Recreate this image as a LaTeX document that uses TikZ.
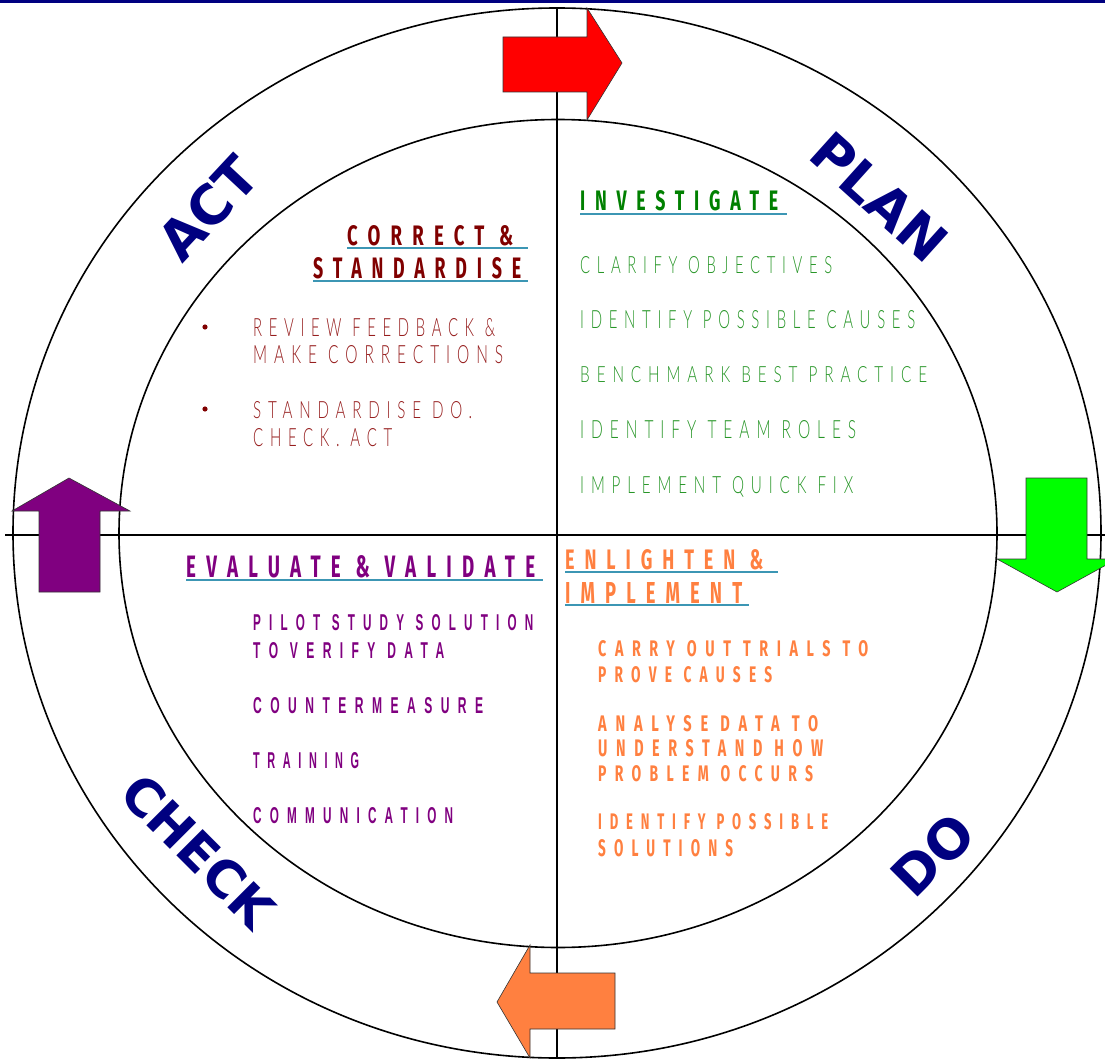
\documentclass[tikz,border=0pt]{standalone}
\usepackage{fontspec}
\usepackage{graphicx}
\setmainfont{DejaVu Sans}
\newfontfamily\bigfont{DejaVu Sans}
\newfontfamily\thinfont{Lato Light}[LetterSpace=45]
\newfontfamily\headfont{Fira Sans}[LetterSpace=55]
\newfontfamily\narrowfont{Liberation Sans}[LetterSpace=70]
\newfontfamily\roundfont{Fira Sans}[LetterSpace=60]

\definecolor{navy}{RGB}{0,0,128}
\definecolor{rulecol}{RGB}{60,150,180}
\definecolor{hgreen}{RGB}{0,128,0}
\definecolor{igreen}{RGB}{40,150,40}
\definecolor{hred}{RGB}{128,0,0}
\definecolor{ired}{RGB}{150,30,30}
\definecolor{ppl}{RGB}{128,0,128}
\definecolor{orng}{RGB}{255,128,64}
\definecolor{arrred}{RGB}{255,0,0}
\definecolor{arrgreen}{RGB}{0,255,0}

% text line squeezed to a given width and cap height (in pt)
\newcommand\fitline[3]{\resizebox{#1pt}{#2pt}{#3}}

\tikzset{
  ring/.style={draw=black, line width=1.6pt},
  axis/.style={draw=black, line width=1.4pt},
  blockarrow/.style={draw=black!80, line width=0.6pt},
  bigword/.style={font=\bigfont\bfseries\fontsize{54}{54}\selectfont, text=navy, inner sep=0pt},
  txt/.style={anchor=base west, inner sep=0pt},
  gitem/.style={txt, font=\thinfont, text=igreen},
  ghead/.style={txt, font=\headfont\bfseries, text=hgreen},
  ritem/.style={txt, font=\thinfont, text=ired},
  rhead/.style={txt, font=\headfont\bfseries, text=hred},
  pitem/.style={txt, font=\narrowfont\bfseries, text=ppl},
  phead/.style={txt, font=\headfont\bfseries, text=ppl},
  oitem/.style={txt, font=\roundfont\bfseries, text=orng},
  ohead/.style={txt, font=\headfont\bfseries, text=orng},
  uline/.style={draw=rulecol, line width=2pt},
}

\begin{document}
\begin{tikzpicture}[x=1pt,y=-1pt]
\useasboundingbox (0,0) rectangle (1105,1059);
\clip (0,0) rectangle (1105,1059);

% top rule
\fill[navy] (0,0) rectangle (1105,3);

% rings and quadrant axes
\draw[ring] (557,533) ellipse [x radius=544, y radius=525];
\draw[ring] (558,533.5) ellipse [x radius=439, y radius=414];
\draw[axis] (5,535) -- (1105,535);
\draw[axis] (557,8) -- (557,1059);

% block arrows turning the cycle
\filldraw[blockarrow, fill=arrred]
  (503,37) -- (587,37) -- (587,8) -- (622,63) -- (587,120) -- (587,92) -- (503,92) -- cycle;
\filldraw[blockarrow, fill=arrgreen]
  (1026,478) -- (1087,478) -- (1087,559) -- (1117,559) -- (1057,592) -- (997,559) -- (1026,559) -- cycle;
\filldraw[blockarrow, fill=orng]
  (615,973) -- (530,973) -- (530,945) -- (497,1002) -- (530,1058) -- (530,1029) -- (615,1029) -- cycle;
\filldraw[blockarrow, fill=ppl]
  (39,592) -- (39,511) -- (12,511) -- (69,478) -- (130,511) -- (100,511) -- (100,592) -- cycle;

% stage names
\node[bigword, rotate=-42] (plan)  at (879,197) {PLAN};
\node[bigword, rotate=47]  (act)   at (208,208) {ACT};
\node[bigword, rotate=-45, font=\bigfont\bfseries\fontsize{51}{51}\selectfont] (check) at (198,851) {CHECK};
\node[bigword, rotate=45]  (do)    at (933,855) {DO};

% PLAN quadrant
\node[ghead] (invh) at (580,211) {\fitline{198}{20}{INVESTIGATE}};
\draw[uline] (580,214) -- (787,214);
\node[gitem] (g1) at (580,273) {\fitline{252}{17}{CLARIFY OBJECTIVES}};
\node[gitem] (g2) at (580,328) {\fitline{335}{18}{IDENTIFY POSSIBLE CAUSES}};
\node[gitem] (g3) at (580,382) {\fitline{347}{16}{BENCHMARK BEST PRACTICE}};
\node[gitem] (g4) at (580,438) {\fitline{276}{18}{IDENTIFY TEAM ROLES}};
\node[gitem] (g5) at (580,493) {\fitline{273}{17}{IMPLEMENT QUICK FIX}};

% ACT quadrant
\node[rhead] (corh1) at (347,245) {\fitline{166}{20}{CORRECT \&}};
\draw[uline] (347,248) -- (528,248);
\node[rhead] (corh2) at (313,278) {\fitline{208}{21}{STANDARDISE}};
\draw[uline] (313,281) -- (528,281);
\fill[hred] (205,327) circle[radius=2.6];
\fill[hred] (205,409) circle[radius=2.6];
\node[ritem] (r1) at (253,336) {\fitline{242}{18}{REVIEW FEEDBACK \&}};
\node[ritem] (r2) at (253,363) {\fitline{250}{18}{MAKE CORRECTIONS}};
\node[ritem] (r3) at (253,418) {\fitline{219}{17}{STANDARDISE DO.}};
\node[ritem] (r4) at (253,446) {\fitline{139}{18}{CHECK. ACT}};

% CHECK quadrant
\node[phead] (evh) at (186,577) {\fitline{349}{22}{EVALUATE \& VALIDATE}};
\draw[uline] (186,580) -- (543,580);
\node[pitem] (p1) at (253,630) {\fitline{280}{16}{PILOT STUDY SOLUTION}};
\node[pitem] (p2) at (253,658) {\fitline{191}{16}{TO VERIFY DATA}};
\node[pitem] (p3) at (253,713) {\fitline{230}{16}{COUNTERMEASURE}};
\node[pitem] (p4) at (253,768) {\fitline{106}{16}{TRAINING}};
\node[pitem] (p5) at (253,823) {\fitline{200}{16}{COMMUNICATION}};

% DO quadrant
\node[ohead] (enh1) at (565,569) {\fitline{198}{20}{ENLIGHTEN \&}};
\draw[uline] (565,572) -- (778,572);
\node[ohead] (enh2) at (565,603) {\fitline{177}{21}{IMPLEMENT}};
\draw[uline] (565,605) -- (749,605);
\node[oitem] (o1) at (598,656) {\fitline{270}{16}{CARRY OUT TRIALS TO}};
\node[oitem] (o2) at (598,682) {\fitline{174}{16}{PROVE CAUSES}};
\node[oitem] (o3) at (598,731) {\fitline{220}{16}{ANALYSE DATA TO}};
\node[oitem] (o4) at (598,756) {\fitline{225}{17}{UNDERSTAND HOW}};
\node[oitem] (o5) at (598,781) {\fitline{215}{16}{PROBLEM OCCURS}};
\node[oitem] (o6) at (598,829) {\fitline{230}{16}{IDENTIFY POSSIBLE}};
\node[oitem] (o7) at (598,856) {\fitline{135}{17}{SOLUTIONS}};
\end{tikzpicture}
\end{document}
